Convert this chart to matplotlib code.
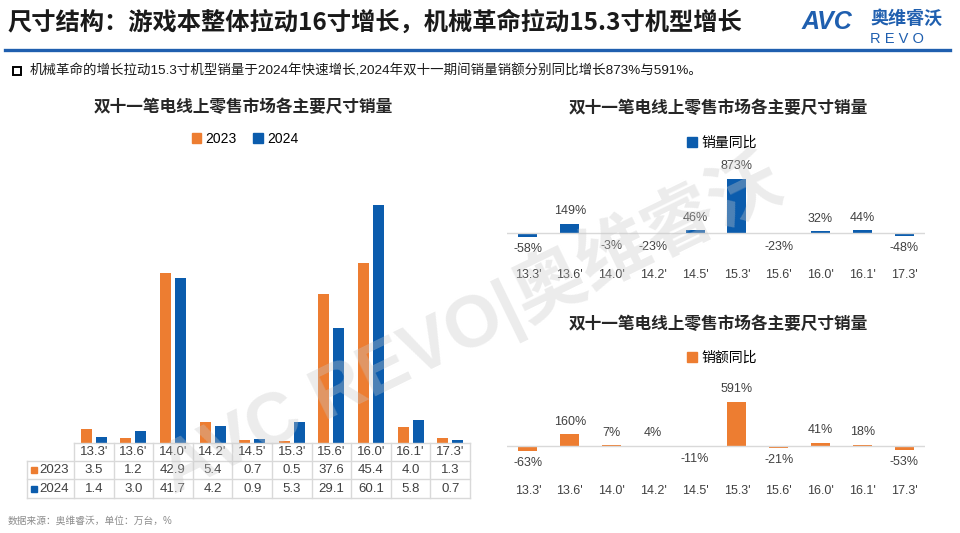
import numpy as np
import matplotlib.pyplot as plt
import matplotlib.transforms as mtransforms
from matplotlib.patches import Rectangle

plt.rcParams['font.family'] = ['Liberation Sans', 'Noto Sans CJK SC', 'DejaVu Sans']

#? Datos
sizes = ["13.3'", "13.6'", "14.0'", "14.2'", "14.5'", "15.3'", "15.6'", "16.0'", "16.1'", "17.3'"]
sales_2023 = [3.5, 1.2, 42.9, 5.4, 0.7, 0.5, 37.6, 45.4, 4.0, 1.3]
sales_2024 = [1.4, 3.0, 41.7, 4.2, 0.9, 5.3, 29.1, 60.1, 5.8, 0.7]
volume_yoy = [-58, 149, -3, -23, 46, 873, -23, 32, 44, -48]
value_yoy = [-63, 160, 7, 4, -11, 591, -21, 41, 18, -53]
years = ['2023', '2024']

title = '尺寸结构：游戏本整体拉动16寸增长，机械革命拉动15.3寸机型增长'
subtitle = '机械革命的增长拉动15.3寸机型销量于2024年快速增长,2024年双十一期间销量销额分别同比增长873%与591%。'
chart_title = '双十一笔电线上零售市场各主要尺寸销量'
source = '数据来源：奥维睿沃，单位：万台，%'

ORANGE = '#ED7D31'
BLUE = '#0B5CAD'
LOGO = '#1F5FAF'
GRID = '#d9d9d9'
TXT = '#404040'

W, H = 960, 533
fig = plt.figure(figsize=(9.6, 5.33), dpi=100)


def fx(px):
    return px / W


def fy(py):
    return 1 - py / H


def px_axes(x0, y0, x1, y1):
    return fig.add_axes([fx(x0), fy(y1), (x1 - x0) / W, (y1 - y0) / H])


#? Cabecera
fig.text(fx(8), fy(22), title, fontsize=17.5, fontweight='bold', color='#1a1a1a',
         ha='left', va='center', family=['Noto Sans CJK SC', 'DejaVu Sans'])
fig.add_artist(plt.Line2D([fx(5), fx(950)], [fy(50), fy(50)], color=LOGO, lw=2.4))
fig.text(fx(802), fy(22), 'AVC', fontsize=18, fontweight='bold', fontstyle='italic',
         color=LOGO, ha='left', va='center')
fig.text(fx(870), fy(18), '奥维睿沃', fontsize=13, fontweight='bold', color=LOGO,
         ha='left', va='center', family=['Noto Sans CJK SC'])
fig.text(fx(870), fy(39), 'R E V O', fontsize=10.5, color=LOGO, ha='left', va='center')

fig.add_artist(plt.Line2D([fx(17)], [fy(71)], marker='s', ms=5.5, mfc='white',
                          mec='black', mew=1.4))
fig.text(fx(30), fy(71), subtitle, fontsize=9.7, color='#1a1a1a', ha='left', va='center')
fig.text(fx(8), fy(521), source, fontsize=7, color='#8c8c8c', ha='left', va='center')

# marca de agua
fig.text(fx(470), fy(325), 'AVC REVO|奥维睿沃', fontsize=52, fontweight='bold',
         color='#c8c8c8', alpha=0.35, rotation=26, ha='center', va='center', zorder=10)

#? Grafico izquierdo
x = np.arange(len(sizes))
ax1 = px_axes(74, 170, 470, 443)
ax1.bar(x - 0.19, sales_2023, 0.28, color=ORANGE)
ax1.bar(x + 0.19, sales_2024, 0.28, color=BLUE)
ax1.set_xlim(-0.5, 9.5)
ax1.set_ylim(0, 68.9)
ax1.axis('off')

fig.text(fx(243), fy(107), chart_title, fontsize=12, fontweight='bold', color='#262626',
         ha='center', va='center')
fig.legend(handles=[Rectangle((0, 0), 1, 1, color=ORANGE), Rectangle((0, 0), 1, 1, color=BLUE)],
           labels=years, loc='center', bbox_to_anchor=(fx(245), fy(139)), ncol=2,
           frameon=False, handlelength=0.7, handleheight=0.7, handletextpad=0.3,
           columnspacing=1.2, fontsize=10)

# tabla de datos
tr = mtransforms.blended_transform_factory(ax1.transData, ax1.transAxes)
rh = 18.2 / 273
xl = -0.5 - 47 / 39.6
kw = dict(transform=tr, color=GRID, lw=1, clip_on=False)
ax1.plot([-0.5, 9.5], [0, 0], **kw)
for k in (1, 2, 3):
    ax1.plot([xl, 9.5], [-k * rh, -k * rh], **kw)
ax1.plot([xl, xl], [-rh, -3 * rh], **kw)
for i in range(len(sizes) + 1):
    ax1.plot([i - 0.5, i - 0.5], [0, -3 * rh], **kw)
for i, s in enumerate(sizes):
    ax1.text(i, -0.5 * rh, s, transform=tr, ha='center', va='center', fontsize=9.5, color=TXT)
for r, (lab, vals, c) in enumerate(zip(years, [sales_2023, sales_2024], [ORANGE, BLUE])):
    yc = -(r + 1.5) * rh
    ax1.plot(xl + 0.17, yc, marker='s', ms=5, color=c, transform=tr, clip_on=False)
    ax1.text(xl + 0.31, yc, lab, transform=tr, ha='left', va='center', fontsize=9.5, color=TXT)
    for i, v in enumerate(vals):
        ax1.text(i, yc, f'{v:.1f}', transform=tr, ha='center', va='center', fontsize=9.5, color=TXT)


#? Graficos derechos
def yoy_chart(rect, vals, color, ylim, label, title_y, legend_y):
    ax = px_axes(*rect)
    ax.bar(x, vals, 0.45, color=color)
    ax.axhline(0, color=GRID, lw=1)
    ax.set_xlim(-0.5, 9.5)
    ax.set_ylim(*ylim)
    for s in ax.spines.values():
        s.set_visible(False)
    ax.set_yticks([])
    ax.set_xticks(x, sizes)
    ax.tick_params(axis='x', length=0, pad=5, labelsize=9, labelcolor=TXT)
    for xi, v in zip(x, vals):
        ax.annotate(f'{v}%', (xi, v), xytext=(0, 9 if v >= 0 else -9),
                    textcoords='offset points', ha='center', va='center',
                    fontsize=9, color=TXT)
    fig.text(fx(718), fy(title_y), chart_title, fontsize=12, fontweight='bold',
             color='#262626', ha='center', va='center')
    fig.legend(handles=[Rectangle((0, 0), 1, 1, color=color)], labels=[label],
               loc='center', bbox_to_anchor=(fx(722), fy(legend_y)), frameon=False,
               handlelength=0.7, handleheight=0.7, handletextpad=0.3, fontsize=10)
    return ax


yoy_chart((507, 160, 925, 262), volume_yoy, BLUE, (-468, 1179), '销量同比', 108, 143)
yoy_chart((507, 380, 925, 478), value_yoy, ORANGE, (-430, 886), '销额同比', 324, 358)

plt.savefig('out.png', dpi=100)
